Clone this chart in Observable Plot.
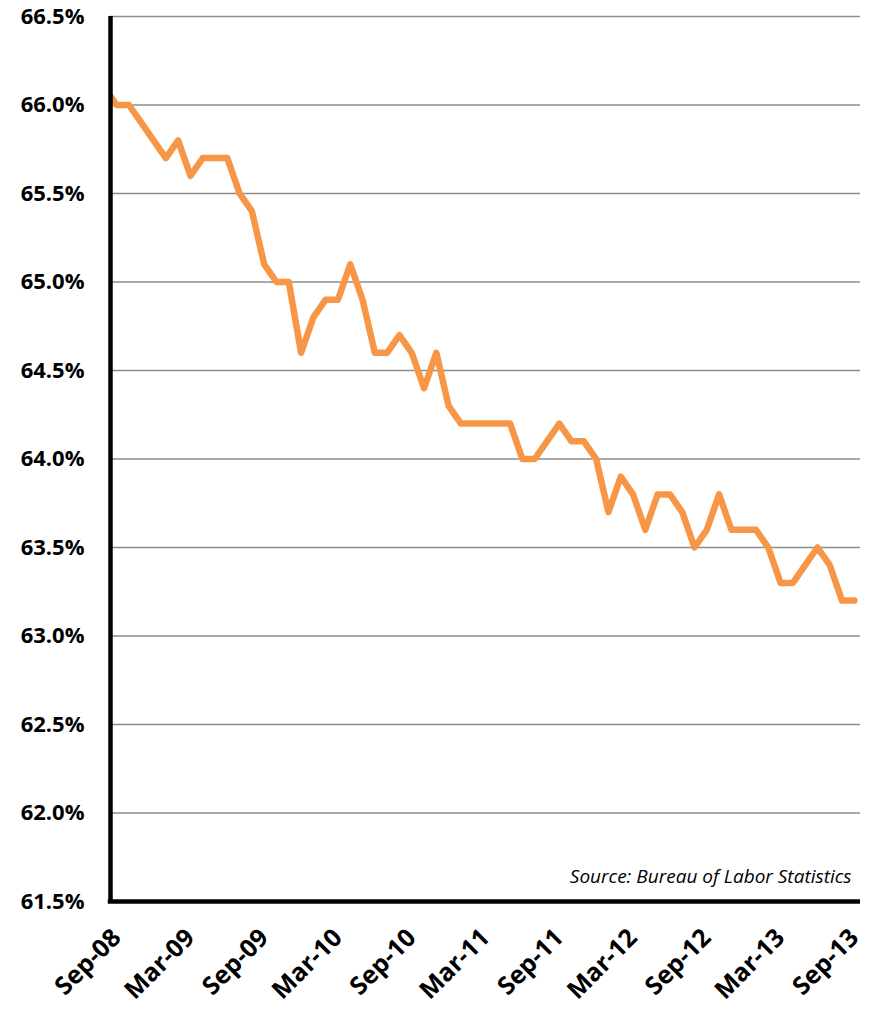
<!DOCTYPE html>
<html>
<head>
<meta charset="utf-8">
<script src="https://cdn.jsdelivr.net/npm/d3@7"></script>
<script src="https://cdn.jsdelivr.net/npm/@observablehq/plot@0.6"></script>
<style>
  html, body { margin: 0; padding: 0; background: #ffffff; }
  #chart svg { display: block; }
</style>
</head>
<body>
<div id="chart"></div>
<script>
// Months (Aug-08 is just before the visible range; the line is clipped at the axis)
const months = [
  "Aug-08","Sep-08","Oct-08","Nov-08","Dec-08",
  "Jan-09","Feb-09","Mar-09","Apr-09","May-09","Jun-09","Jul-09","Aug-09","Sep-09","Oct-09","Nov-09","Dec-09",
  "Jan-10","Feb-10","Mar-10","Apr-10","May-10","Jun-10","Jul-10","Aug-10","Sep-10","Oct-10","Nov-10","Dec-10",
  "Jan-11","Feb-11","Mar-11","Apr-11","May-11","Jun-11","Jul-11","Aug-11","Sep-11","Oct-11","Nov-11","Dec-11",
  "Jan-12","Feb-12","Mar-12","Apr-12","May-12","Jun-12","Jul-12","Aug-12","Sep-12","Oct-12","Nov-12","Dec-12",
  "Jan-13","Feb-13","Mar-13","Apr-13","May-13","Jun-13","Jul-13","Aug-13","Sep-13"
];
// Labor force participation rate (%)
const rate = [
  66.1, 66.0, 66.0, 65.9, 65.8,
  65.7, 65.8, 65.6, 65.7, 65.7, 65.7, 65.5, 65.4, 65.1, 65.0, 65.0, 64.6,
  64.8, 64.9, 64.9, 65.1, 64.9, 64.6, 64.6, 64.7, 64.6, 64.4, 64.6, 64.3,
  64.2, 64.2, 64.2, 64.2, 64.2, 64.0, 64.0, 64.1, 64.2, 64.1, 64.1, 64.0,
  63.7, 63.9, 63.8, 63.6, 63.8, 63.8, 63.7, 63.5, 63.6, 63.8, 63.6, 63.6,
  63.6, 63.5, 63.3, 63.3, 63.4, 63.5, 63.4, 63.2, 63.2
];
const xTickLabels = ["Sep-08","Mar-09","Sep-09","Mar-10","Sep-10","Mar-11","Sep-11","Mar-12","Sep-12","Mar-13","Sep-13"];
const yTicks = [61.5, 62.0, 62.5, 63.0, 63.5, 64.0, 64.5, 65.0, 65.5, 66.0, 66.5];
const sourceNote = "Source: Bureau of Labor Statistics";

// index relative to Sep-08
const firstIdx = months.indexOf("Sep-08");
const data = months.map((m, i) => ({month: m, idx: i - firstIdx, value: rate[i]}));
const lastIdx = months.length - 1 - firstIdx;
const xTicks = xTickLabels.map(l => months.indexOf(l) - firstIdx);

const font = "'Open Sans', 'DejaVu Sans', sans-serif";

const chart = Plot.plot({
  width: 871,
  height: 1011,
  marginLeft: 110,
  marginRight: 11,
  marginTop: 16,
  marginBottom: 110,
  style: {fontFamily: font, background: "#ffffff", color: "#000"},
  x: {domain: [-0.5, lastIdx + 0.5], label: null},
  y: {domain: [61.5, 66.5], label: null},
  marks: [
    Plot.gridY(yTicks, {stroke: "#8c8c8c", strokeOpacity: 1, strokeWidth: 1.6}),
    Plot.axisY(yTicks, {
      tickSize: 0, tickPadding: 26, label: null,
      tickFormat: d => d.toFixed(1) + "%",
      fontSize: 22, fontWeight: "bold", fill: "#000"
    }),
    Plot.axisX(xTicks, {
      tickSize: 0, tickPadding: 32, tickRotate: -45, label: null,
      tickFormat: d => months[d + firstIdx],
      fontSize: 25, fontWeight: "bold", fill: "#000"
    }),
    Plot.line(data, {
      x: "idx", y: "value",
      stroke: "#F79646", strokeWidth: 6.5,
      strokeLinejoin: "round", strokeLinecap: "round",
      clip: true
    }),
    Plot.ruleX([-0.5], {stroke: "#000", strokeWidth: 4.5}),
    Plot.ruleY([61.5], {stroke: "#000", strokeWidth: 4.5, x1: -0.68, x2: lastIdx + 0.5}),
    Plot.text([sourceNote], {
      frameAnchor: "bottom-right", dx: -9, dy: -19,
      text: d => d, fontSize: 19, fontStyle: "italic", fill: "#000", textAnchor: "end"
    })
  ]
});
document.getElementById("chart").appendChild(chart);
</script>
</body>
</html>
